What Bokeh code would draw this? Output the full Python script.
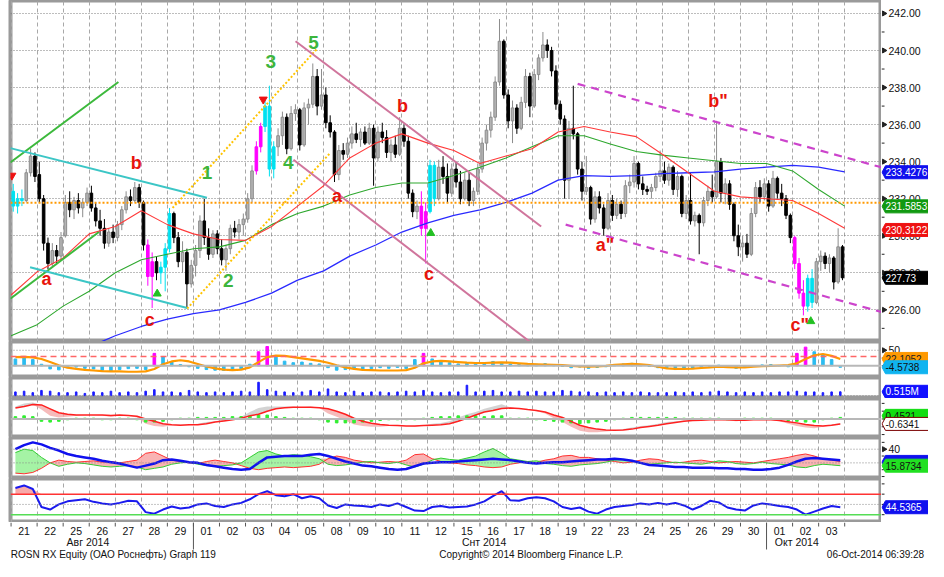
import numpy as np
from bokeh.plotting import figure
from bokeh.layouts import column, row
from bokeh.models import Range1d, FixedTicker, Span, Grid
from bokeh.embed import file_html
from bokeh.resources import INLINE
from bokeh.core.properties import value

# ---------------- data (6 intraday bars per trading day) ----------------
DAY_LABELS = ["21", "22", "25", "26", "27", "28", "29", "01", "02", "03", "04", "05", "08", "09", "10", "11",
              "12", "15", "16", "17", "18", "19", "22", "23", "24", "25", "26", "29", "30", "01", "02", "03"]
MONTH_NAMES = ["Авг 2014", "Снт 2014", "Окт 2014"]
MONTH_POS = [2.95, 18.16, 30.16]
MONTH_BREAKS = [7, 29]
FOOTER_TEXT = ["ROSN RX Equity (ОАО Роснефть) Graph 119", "Copyright© 2014 Bloomberg Finance L.P.",
               "06-Oct-2014 06:39:28"]
FOOTER_POS = [-0.01, 19.97, 35.05]

open_ = [
    232.4, 231.6, 232.0, 231.9, 233.4, 234.3,
    233.3, 232.0, 229.6, 228.5, 229.2, 228.9,
    230.0, 231.8, 231.4, 231.9, 231.5, 231.8,
    232.3, 231.5, 230.8, 230.4, 229.6, 230.2,
    229.9, 230.6, 231.4, 232.1, 231.9, 232.6,
    231.8, 229.5, 227.8, 228.6, 228.0, 228.3,
    229.3, 231.2, 229.9, 228.6, 229.1, 227.4,
    228.4, 229.2, 230.8, 229.9, 229.0, 230.1,
    229.3, 228.7, 229.3, 230.4, 230.2, 230.6,
    230.9, 232.0, 233.5, 234.8, 235.9, 237.0,
    233.6, 234.8, 235.4, 236.4, 234.7, 236.6,
    236.8, 234.9, 236.9, 237.1, 238.6, 237.0,
    237.6, 236.1, 235.6, 233.3, 234.6, 234.4,
    235.0, 235.5, 235.2, 235.6, 235.0, 235.8,
    234.2, 235.6, 235.3, 234.5, 234.9, 234.4,
    235.8, 235.1, 232.3, 231.3, 231.6, 230.4,
    231.3, 233.8, 232.0, 233.7, 233.2, 232.3,
    233.6, 232.9, 232.0, 233.0, 231.9, 232.4,
    233.6, 235.0, 235.7, 236.4, 238.3, 240.5,
    237.6, 236.2, 236.9, 235.8, 237.2, 238.6,
    237.0, 238.7, 239.6, 240.3, 240.0, 238.9,
    237.1, 236.3, 233.0, 235.8, 235.5, 233.6,
    232.4, 232.6, 230.9, 232.1, 231.5, 230.4,
    231.9, 231.1, 231.7, 231.2, 232.7, 232.9,
    233.9, 232.8, 232.5, 232.4, 232.6, 233.2,
    233.5, 233.0, 233.7, 232.5, 233.2, 231.2,
    231.9, 230.8, 231.1, 230.7, 231.9, 232.4,
    232.1, 234.0, 232.3, 232.8, 231.7, 230.0,
    229.4, 229.6, 229.0, 231.2, 232.6, 232.1,
    232.8, 231.6, 233.1, 232.3, 232.0, 231.1,
    229.9, 228.5, 226.9, 226.2, 227.7, 226.4,
    228.6, 228.9, 228.5, 228.8, 227.5, 229.4]
high = [
    232.8, 232.3, 232.5, 233.6, 234.7, 234.5,
    234.0, 232.2, 229.9, 229.6, 229.5, 230.2,
    232.2, 232.4, 232.1, 232.3, 232.0, 232.6,
    232.7, 231.8, 231.4, 230.9, 230.4, 230.6,
    230.8, 231.6, 232.4, 232.5, 232.9, 232.8,
    231.9, 229.8, 229.1, 228.9, 228.6, 229.6,
    231.5, 231.3, 230.2, 229.7, 229.3, 228.7,
    229.5, 231.1, 232.0, 230.4, 230.3, 230.3,
    229.8, 229.5, 230.6, 230.8, 230.9, 231.2,
    232.3, 233.8, 235.1, 236.1, 237.4, 238.1,
    235.1, 235.8, 236.7, 236.6, 237.0, 237.1,
    236.9, 237.2, 237.4, 239.3, 239.0, 239.0,
    238.0, 236.5, 235.7, 234.9, 235.0, 235.3,
    235.9, 236.1, 235.8, 235.9, 236.1, 236.0,
    235.9, 236.1, 235.7, 235.2, 235.4, 236.4,
    236.0, 235.4, 232.5, 231.9, 232.4, 231.8,
    234.1, 234.0, 234.1, 234.3, 233.9, 233.9,
    234.0, 233.5, 233.4, 233.4, 232.6, 233.9,
    235.3, 236.0, 236.7, 238.6, 241.7, 240.6,
    237.9, 237.3, 237.1, 237.5, 239.0, 238.8,
    239.0, 239.8, 241.0, 240.6, 240.2, 239.2,
    237.3, 236.5, 236.2, 238.1, 235.6, 234.0,
    234.3, 232.7, 232.4, 232.4, 231.7, 232.3,
    232.2, 232.0, 231.9, 233.0, 233.3, 234.3,
    234.0, 233.2, 232.7, 232.8, 233.4, 234.6,
    234.0, 233.9, 233.8, 233.5, 233.3, 232.2,
    233.4, 231.3, 231.2, 232.1, 232.7, 233.3,
    236.2, 234.2, 233.1, 233.0, 231.8, 230.6,
    230.0, 230.1, 231.5, 232.9, 233.0, 233.1,
    233.0, 233.5, 233.2, 232.8, 232.2, 231.2,
    230.0, 228.8, 227.6, 227.9, 228.2, 228.8,
    229.2, 229.1, 229.0, 228.9, 230.4, 229.5]
low = [
    231.3, 231.2, 231.6, 231.8, 233.2, 232.9,
    231.8, 229.2, 228.2, 228.3, 228.5, 228.7,
    229.9, 231.0, 230.9, 231.2, 231.0, 231.6,
    231.3, 230.5, 230.0, 229.3, 229.4, 229.6,
    229.7, 230.3, 231.2, 231.6, 231.8, 231.5,
    229.2, 227.3, 226.1, 227.6, 227.4, 227.0,
    229.1, 229.6, 228.3, 228.0, 226.1, 227.2,
    227.8, 228.8, 229.5, 228.7, 228.8, 229.0,
    228.4, 228.1, 229.0, 229.9, 229.8, 230.0,
    230.7, 231.8, 233.3, 234.5, 235.6, 233.2,
    233.1, 234.3, 234.9, 234.4, 234.6, 236.2,
    234.6, 234.8, 236.0, 236.9, 236.5, 236.8,
    235.8, 235.3, 232.9, 233.0, 234.1, 234.2,
    234.7, 235.0, 234.8, 234.9, 234.9, 232.7,
    234.0, 235.0, 234.2, 234.0, 234.2, 234.3,
    234.8, 232.0, 231.0, 230.9, 230.0, 228.5,
    231.2, 231.6, 231.9, 232.8, 231.8, 232.1,
    232.6, 231.7, 231.9, 231.6, 231.6, 232.2,
    233.4, 234.6, 235.3, 236.2, 238.1, 237.4,
    235.8, 235.0, 235.5, 235.7, 236.9, 236.4,
    236.9, 238.4, 239.4, 239.6, 238.6, 236.8,
    236.0, 232.0, 232.0, 235.2, 233.3, 231.9,
    232.2, 230.6, 230.7, 231.2, 230.0, 230.3,
    230.8, 230.9, 230.9, 231.0, 232.3, 232.6,
    232.5, 232.2, 232.2, 232.0, 232.4, 232.9,
    232.8, 232.7, 232.2, 232.1, 231.0, 230.9,
    230.6, 230.5, 229.0, 230.5, 231.6, 231.8,
    232.0, 231.8, 231.7, 231.4, 229.7, 228.9,
    228.6, 228.8, 228.9, 231.0, 231.8, 231.9,
    231.3, 231.5, 232.0, 231.6, 230.9, 229.6,
    228.2, 226.6, 225.7, 225.9, 226.1, 226.3,
    228.1, 228.2, 228.0, 227.1, 227.4, 227.6]
close = [
    231.6, 232.0, 231.9, 233.4, 234.3, 233.2,
    232.0, 229.6, 228.5, 229.2, 228.9, 229.9,
    231.8, 231.4, 231.9, 231.5, 231.8, 232.3,
    231.5, 230.8, 230.4, 229.6, 230.2, 229.9,
    230.6, 231.4, 232.1, 231.9, 232.6, 231.8,
    229.5, 227.8, 228.6, 228.0, 228.3, 229.3,
    231.2, 229.9, 228.6, 229.1, 227.4, 228.4,
    229.2, 230.8, 229.9, 229.0, 230.1, 229.3,
    228.7, 229.3, 230.4, 230.2, 230.6, 230.9,
    232.0, 233.5, 234.8, 235.9, 237.0, 233.6,
    234.8, 235.4, 236.4, 234.7, 236.6, 236.8,
    234.9, 236.9, 237.1, 238.6, 237.0, 237.6,
    236.1, 235.6, 233.3, 234.6, 234.4, 235.0,
    235.5, 235.2, 235.6, 235.0, 235.8, 234.2,
    235.6, 235.3, 234.5, 234.9, 234.4, 235.8,
    235.1, 232.3, 231.3, 231.6, 230.4, 231.3,
    233.8, 232.0, 233.7, 233.2, 232.3, 233.6,
    232.9, 232.0, 233.0, 231.9, 232.4, 233.6,
    235.0, 235.7, 236.4, 238.3, 240.5, 237.6,
    236.2, 236.9, 235.8, 237.2, 238.6, 237.0,
    238.7, 239.6, 240.3, 240.0, 238.9, 237.1,
    236.3, 233.0, 235.8, 235.5, 233.6, 232.4,
    232.6, 230.9, 232.1, 231.5, 230.4, 231.9,
    231.1, 231.7, 231.2, 232.7, 232.9, 233.9,
    232.8, 232.5, 232.4, 232.6, 233.2, 233.5,
    233.0, 233.7, 232.5, 233.2, 231.2, 231.9,
    230.8, 231.1, 230.7, 231.9, 232.4, 232.1,
    234.0, 232.3, 232.8, 231.7, 230.0, 229.4,
    229.6, 229.0, 231.2, 232.6, 232.1, 232.8,
    231.6, 233.1, 232.3, 232.0, 231.1, 229.9,
    228.5, 226.9, 226.2, 227.7, 226.4, 228.6,
    228.9, 228.5, 228.8, 227.5, 229.4, 227.73]
MAGENTA_BARS = [31, 32, 56, 57, 94, 95, 180, 181, 182]
CYAN_BARS = [0, 1, 2, 34, 35, 36, 58, 59, 60, 96, 97, 183, 184]

# moving averages, read at each day boundary (day 0 .. day 32)
ma_red = [226.8, 228.05, 228.8, 230.1, 230.5, 231.35, 230.6, 230.1, 229.8, 229.75, 230.5, 231.6, 232.7,
          234.2, 235.0, 235.5, 235.0, 234.6, 233.9, 234.3, 234.7, 235.6, 235.9, 235.6, 235.35, 234.4,
          233.4, 232.4, 232.1, 232.0, 231.9, 231.2, 230.4]
ma_green = [224.6, 225.2, 226.2, 227.0, 228.0, 228.7, 229.0, 229.3, 229.4, 229.75, 230.6, 231.2, 231.6,
            232.2, 232.6, 232.85, 232.85, 233.25, 233.7, 234.2, 234.8, 235.4, 235.4, 234.95, 234.55,
            234.35, 234.2, 234.05, 233.9, 233.9, 233.5, 232.5, 231.6]
ma_blue = [np.nan, np.nan, np.nan, 224.0, 224.6, 225.1, 225.5, 225.8, 226.0, 226.4, 226.9, 227.6, 228.1,
           228.9, 229.5, 230.2, 230.7, 231.1, 231.4, 231.8, 232.3, 233.0, 233.25, 233.2, 233.25, 233.35,
           233.4, 233.45, 233.6, 233.7, 233.8, 233.7, 233.45]
PRICE_TICKS = [226, 228, 230, 232, 234, 236, 238, 240, 242]
PRICE_MINOR = [225, 227, 229, 231, 233, 235, 237, 239, 241]
LAST_TAGS = [(233.4276, "233.4276", "#1010ee", "white"), (231.5853, "231.5853", "#119911", "white"),
             (230.3122, "230.3122", "#ee1111", "white"), (227.73, "227.73", "#000000", "white")]
PIVOT_LEVEL = 231.78

# hand-drawn lines: (day0, price0, day1, price1)
GREEN_TREND = [(-0.03, 233.95, 4.12, 238.3), (-0.03, 226.6, 3.37, 230.2)]
CYAN_TREND = [(-0.03, 234.73, 7.52, 232.05), (0.73, 228.3, 6.76, 226.1)]
YELLOW_TREND = [(6.2, 231.5, 11.75, 240.1), (6.76, 226.07, 12.24, 234.45)]
PINK_TREND = [(10.92, 240.5, 20.35, 230.5), (10.84, 234.1, 20.08, 224.1)]
VIOLET_TREND = [(21.75, 238.2, 33.42, 233.69), (21.29, 230.6, 33.42, 225.88)]

RED_WAVE_TEXT = ["a", "b", "c", "a", "b", "c", 'a"', 'b"', 'c"']
RED_WAVE_X = [1.36, 4.81, 5.32, 12.51, 15.03, 16.04, 22.8, 27.14, 30.28]
RED_WAVE_Y = [227.66, 233.95, 225.47, 232.12, 237.02, 227.92, 229.49, 237.28, 225.2]
GREEN_WAVE_TEXT = ["1", "2", "3", "4", "5"]
GREEN_WAVE_X = [7.52, 8.34, 9.97, 10.64, 11.61]
GREEN_WAVE_Y = [233.43, 227.57, 239.38, 233.95, 240.43]
UP_MARK_X = [5.61, 16.11, 30.7]
UP_MARK_Y = [226.87, 230.14, 225.38]
DOWN_MARK_X = [0.03, 9.68]
DOWN_MARK_Y = [233.25, 237.36]

# indicators (3 readings per trading day)
osc_hist = [22, 25, 20, 5, -10, -13, -6, -4, -8, -10, -14, -16, -12, -9, -8, -12, 40, 30,
            12, 4, -3, -8, -12, -14, -15, -12, -10, 5, 45, 62, 30, 15, 10, 12, 8, 6,
            -6, -14, -12, -10, -13, -9, -6, -8, -5, -9, 20, 40, 22, 14, 10, 6, 8, 5,
            8, 14, 10, 6, 4, 2, 5, 7, 3, -2, -6, -4, -8, -5, -3, 4, 6, 8,
            3, -2, -6, -8, -12, -10, -9, -6, -4, 2, -4, -8, -5, -2, 3, 4, 1, -3,
            40, 60, 45, 35, 20, -4.57]
OSC_MAGENTA = [16, 28, 29, 47, 90, 91]
osc_line = [28, 29, 27, 22, 12, 2, -6, -10, -13, -15, -17, -18, -18, -19, -19, -18, -10, 5,
            14, 18, 14, 6, -2, -8, -12, -14, -12, -5, 12, 28, 33, 32, 28, 24, 20, 16,
            10, 2, -5, -10, -13, -14, -15, -15, -15, -14, -6, 8, 14, 16, 14, 12, 10, 9,
            9, 10, 11, 10, 8, 6, 5, 4, 3, 2, 0, -2, -3, -2, 0, 3, 5, 6,
            5, 2, -3, -8, -10, -10, -9, -7, -5, -3, -4, -5, -5, -3, -1, 0, 1, 2,
            8, 22, 34, 38, 32, 22.1]
OSC_LEVELS = [50, 30, 0]
volume = [0.5, 0.6, 0.4, 0.7, 0.6, 0.4, 0.4, 0.5, 0.3, 0.5, 0.4, 0.6, 0.4, 0.5, 0.4, 0.6, 0.8, 0.5,
          0.5, 0.4, 0.7, 0.5, 0.4, 0.5, 0.4, 0.5, 0.6, 0.5, 1.8, 0.8, 0.6, 0.5, 0.4, 0.5, 0.7, 0.5,
          0.9, 0.5, 0.4, 0.6, 0.4, 0.5, 0.5, 0.4, 0.5, 0.6, 0.5, 0.7, 0.5, 0.4, 0.5, 0.5, 1.4, 0.5,
          0.6, 0.7, 0.5, 0.5, 0.6, 0.5, 0.6, 0.5, 0.5, 0.7, 0.6, 0.5, 0.5, 0.4, 0.5, 0.4, 0.5, 0.4,
          0.5, 0.4, 0.4, 0.4, 0.5, 0.4, 0.5, 0.4, 0.5, 0.6, 0.5, 0.4, 0.5, 0.4, 0.5, 0.4, 0.5, 0.5,
          0.6, 0.5, 0.5, 0.4, 0.5, 0.515]
macd_signal = [1.4, 1.6, 1.85, 1.8, 1.3, 0.8, 0.6, 0.5, 0.5, 0.5, 0.5, 0.45, 0.5, 0.45, 0.35,
               0.0, -0.3, -0.6, -0.75, -0.8, -0.75, -0.75, -0.6, -0.4, -0.25, -0.1, 0.1,
               0.4, 0.6, 1.0, 1.3, 1.45, 1.5, 1.5, 1.5, 1.45, 1.3, 1.0, 0.6, 0.1, -0.3, -0.55,
               -0.7, -0.8, -0.85, -0.9, -0.9, -0.85, -0.8, -0.75, -0.6, -0.3, 0.1, 0.5,
               0.9, 1.1, 1.35, 1.4, 1.35, 1.2, 1.1, 0.9, 0.5, 0.2, -0.3, -0.8, -1.1, -1.3, -1.4,
               -1.45, -1.4, -1.3, -1.1, -0.95, -0.8, -0.6, -0.45, -0.3, -0.2, -0.15, -0.1,
               -0.1, -0.1, -0.15, -0.15, -0.1, -0.1, -0.1, -0.2, -0.35, -0.5, -0.7, -0.85,
               -0.9, -0.8, -0.63]
macd_line = [1.6, 2.0, 2.1, 1.2, 0.4, 0.2, 0.3, 0.4, 0.5, 0.5, 0.4, 0.3, 0.4, 0.4, 0.2,
             -0.6, -0.9, -1.0, -0.8, -0.7, -0.8, -0.6, -0.4, -0.3, -0.1, 0.1, 0.3,
             0.9, 1.4, 1.6, 1.6, 1.6, 1.6, 1.5, 1.6, 1.4, 0.7, 0.3, -0.2, -0.7, -0.9, -1.0,
             -1.0, -0.9, -0.9, -0.9, -1.0, -0.8, -0.6, -0.5, -0.3, 0.2, 0.6, 0.9,
             1.3, 1.6, 1.9, 1.5, 1.3, 1.2, 1.0, 0.7, 0.1, -0.4, -1.0, -1.5, -1.7, -1.7, -1.6,
             -1.5, -1.3, -1.1, -0.9, -0.8, -0.6, -0.4, -0.3, -0.2, -0.1, -0.1, 0.0,
             0.0, -0.2, -0.3, -0.2, 0.0, 0.0, 0.0, -0.3, -0.6, -0.9, -1.1, -1.2,
             -1.0, -0.7, -0.5]
macd_hist = [0.3, 0.4, 0.3, -0.3, -0.4, -0.3, -0.1, 0.1, 0.1, 0.1, -0.1, -0.1, 0.1, 0.1, -0.1,
             -0.4, -0.4, -0.3, -0.1, 0.1, 0.1, 0.2, 0.2, 0.2, 0.2, 0.3, 0.3, 0.4, 0.5, 0.5,
             0.3, 0.2, 0.1, 0.1, 0.1, -0.1, -0.4, -0.5, -0.5, -0.5, -0.4, -0.3, -0.2, -0.1, -0.1,
             -0.1, -0.1, 0.1, 0.2, 0.3, 0.3, 0.4, 0.4, 0.4, 0.3, 0.4, 0.4, 0.1, 0.1, 0.1,
             -0.1, -0.2, -0.3, -0.4, -0.5, -0.6, -0.5, -0.4, -0.3, -0.1, 0.1, 0.2, 0.2, 0.2, 0.2,
             0.2, 0.2, 0.1, 0.1, 0.1, 0.1, 0.1, -0.1, -0.1, 0.1, 0.1, 0.1, 0.1, -0.1, -0.2,
             -0.3, -0.4, -0.4, -0.1, 0.1, 0.2]
adx = [40, 46, 50, 47, 42, 38, 33, 30, 28, 26, 23, 21, 19, 16, 13, 16, 19, 24, 25, 23, 21,
       20, 17, 15, 13, 11, 10, 11, 20, 28, 29, 30, 30, 30, 32, 33, 30, 26, 22, 19, 16, 15,
       13, 11, 10, 11, 15, 19, 20, 21, 21, 22, 23, 24, 25, 26, 25, 24, 22, 20, 19, 20, 21,
       21, 22, 23, 24, 25, 25, 26, 25, 23, 20, 17, 16, 15, 14, 14, 13, 13, 13, 12, 12, 11,
       11, 10, 10, 11, 13, 17, 22, 26, 27, 26, 25, 24]
di_minus = [5, 4, 6, 12, 20, 24, 22, 21, 22, 23, 21, 22, 20, 22, 24, 34, 36, 30, 24, 22, 20,
            19, 22, 24, 22, 20, 16, 12, 10, 12, 13, 14, 13, 14, 15, 18, 26, 30, 28, 24, 22, 20,
            21, 22, 21, 24, 32, 33, 26, 22, 20, 19, 17, 16, 14, 13, 14, 18, 20, 22, 20, 24, 26,
            30, 31, 28, 28, 26, 24, 22, 20, 21, 24, 26, 25, 22, 20, 21, 23, 24, 22, 20, 21, 22,
            21, 20, 22, 24, 26, 28, 31, 33, 30, 26, 24, 22]
di_plus = [35, 40, 38, 28, 20, 15, 18, 20, 19, 17, 15, 14, 15, 16, 14, 10, 12, 14, 18, 20, 21,
           18, 16, 15, 16, 17, 20, 28, 36, 38, 33, 30, 32, 31, 29, 26, 18, 16, 17, 19, 21, 22,
           20, 19, 21, 17, 14, 18, 24, 27, 25, 24, 27, 30, 36, 41, 34, 26, 24, 22, 23, 19, 18,
           16, 15, 17, 18, 19, 21, 24, 25, 23, 19, 18, 19, 20, 21, 20, 19, 18, 20, 23, 22, 19,
           18, 19, 21, 19, 18, 17, 14, 13, 16, 18, 17, 15.87]
DMI_LEVELS = [40, 20]
rsi = [82, 87, 80, 45, 40, 50, 56, 58, 60, 55, 52, 50, 53, 57, 56, 35, 32, 40, 46, 42, 44,
       50, 52, 47, 45, 50, 53, 60, 70, 76, 68, 66, 70, 62, 66, 62, 48, 43, 50, 48, 47, 45,
       50, 47, 52, 45, 38, 37, 45, 47, 44, 45, 46, 50, 56, 66, 76, 58, 57, 62, 64, 62, 56,
       45, 41, 44, 36, 32, 40, 45, 47, 49, 52, 50, 53, 50, 53, 48, 40, 47, 57, 54, 44, 40,
       38, 48, 52, 50, 47, 45, 40, 30, 36, 42, 47, 44.54]
RSI_LEVELS = [70, 50, 30]

# ---------------- layout helpers ----------------
FONT = "Liberation Sans"
MAIN_W = 881
SIDE_W = 47
XR = Range1d(-0.022, 33.415)
BOUNDS = list(range(0, 33))


def panel(h, lo, hi):
    p = figure(width=MAIN_W, height=h, x_range=XR, y_range=Range1d(lo, hi), output_backend="svg",
               toolbar_location=None, x_axis_location=None, y_axis_location=None,
               min_border_left=10, min_border_right=0, min_border_top=0, min_border_bottom=0)
    p.grid.visible = False
    p.outline_line_color = "#9a9a9a"
    p.outline_line_width = 4
    p.background_fill_color = "white"
    p.add_layout(Grid(dimension=0, ticker=FixedTicker(ticks=BOUNDS), grid_line_color="#a8a8a8",
                      grid_line_dash="4 3", grid_line_width=1))
    s = figure(width=SIDE_W, height=h, x_range=Range1d(0, SIDE_W), y_range=p.y_range, output_backend="svg",
               toolbar_location=None, x_axis_location=None, y_axis_location=None,
               min_border_left=0, min_border_right=0, min_border_top=0, min_border_bottom=0)
    s.grid.visible = False
    s.outline_line_color = None
    s.background_fill_color = "white"
    return p, s


def side_ticks(s, major, minor, labels):
    if major:
        s.scatter([2.5] * len(major), major, marker="triangle", angle=-np.pi / 2, size=5, color="#222222")
        s.text([7] * len(major), major, text=labels, text_font=value(FONT), text_font_size="10.5px",
               text_color="#111111", text_baseline="middle", text_align="left")
    if minor:
        s.segment(x0=0, y0=minor, x1=3, y1=minor, line_color="#222222", line_width=1)


def side_tag(s, v, text, bg, fg, h, border=None):
    span = s.y_range.end - s.y_range.start
    hh = 6.5 * span / h
    s.patch([0.5, 4, SIDE_W + 5, SIDE_W + 5, 4], [v, v + hh, v + hh, v - hh, v - hh],
            fill_color=bg, line_color=border or bg, line_width=1)
    s.text([4], [v], text=[text], text_font=value(FONT), text_font_size="10px", text_color=fg,
           text_baseline="middle", text_align="left")


def hline(p, level, color, width=1, dash="solid"):
    p.add_layout(Span(location=level, dimension="width", line_color=color,
                      line_width=width, line_dash=dash))


cx = (np.arange(len(close)) + 0.5) / 6.0
ix = (np.arange(len(rsi)) + 0.5) / 3.0
mx = np.arange(len(ma_red))

# ---------------- main price panel ----------------
H1 = 341
p1, s1 = panel(H1, 224.29, 242.70)
p1.add_layout(Grid(dimension=1, ticker=FixedTicker(ticks=PRICE_TICKS),
                   grid_line_color="#7a7a7a", grid_line_dash="1 2"))
hline(p1, PIVOT_LEVEL, "#ff9900", 2, "2 2")

o = np.array(open_); c = np.array(close); hi = np.array(high); lo_ = np.array(low)
col = np.where(c >= o, "#8c8c8c", "#000000").astype(object)
fill = np.where(c >= o, "#b4b4b4", "#000000").astype(object)
for i in MAGENTA_BARS:
    col[i] = "#ff00ff"; fill[i] = "#ff00ff"
for i in CYAN_BARS:
    col[i] = "#00e1f0"; fill[i] = "#00e1f0"
p1.segment(x0=cx, y0=lo_, x1=cx, y1=hi, line_color=list(col), line_width=1)
p1.vbar(x=cx, top=np.maximum(o, c), bottom=np.minimum(o, c), width=0.1,
        fill_color=list(fill), line_color=list(col), line_width=1)

p1.line(mx, ma_blue, line_color="#2a2aff", line_width=1.3)
p1.line(mx, ma_green, line_color="#2ea82e", line_width=1.1)
p1.line(mx, ma_red, line_color="#ff3a3a", line_width=1.1)

for lines, color, width, dash in [(GREEN_TREND, "#3cb93c", 2, "solid"), (CYAN_TREND, "#3cc6c6", 2, "solid"),
                                  (YELLOW_TREND, "#ffc400", 2, "2 2"), (PINK_TREND, "#d0759c", 2, "solid"),
                                  (VIOLET_TREND, "#cc44cc", 2.2, "8 6")]:
    for (a0, b0, a1, b1) in lines:
        p1.line([a0, a1], [b0, b1], line_color=color, line_width=width, line_dash=dash)

p1.scatter(UP_MARK_X, UP_MARK_Y, marker="triangle", size=8, color="#22c022")
p1.scatter(DOWN_MARK_X, DOWN_MARK_Y, marker="inverted_triangle", size=8, color="#ee1111")
p1.text(RED_WAVE_X, RED_WAVE_Y, text=RED_WAVE_TEXT, text_color="#e8140c", text_font=value("Liberation Sans"),
        text_font_style="bold", text_font_size="18px", text_align="center", text_baseline="middle")
p1.text(GREEN_WAVE_X, GREEN_WAVE_Y, text=GREEN_WAVE_TEXT, text_color="#3db53d",
        text_font=value("Liberation Sans"), text_font_style="bold", text_font_size="19px",
        text_align="center", text_baseline="middle")
side_ticks(s1, PRICE_TICKS, PRICE_MINOR, ["%.2f" % t for t in PRICE_TICKS])
for yv, txt, bg, fg in LAST_TAGS:
    side_tag(s1, yv, txt, bg, fg, H1)

# ---------------- oscillator panel ----------------
H2 = 36
p2, s2 = panel(H2, -37.5, 78.1)
hline(p2, OSC_LEVELS[0], "#888888", 1, "1 2")
hline(p2, OSC_LEVELS[2], "#b8b8b8", 2)
hcol = ["#ff00ff" if i in OSC_MAGENTA else "#2bbcf0" for i in range(len(osc_hist))]
p2.vbar(x=ix, top=osc_hist, bottom=0, width=0.1, color=hcol)
hline(p2, OSC_LEVELS[1], "#ff6666", 1.5, "6 4")
p2.line(ix, osc_line, line_color="#ff9900", line_width=2.2)
side_ticks(s2, [50], [25, 0], ["50"])
side_tag(s2, 22.1, "22.1052", "#ff9900", "#222222", H2)
side_tag(s2, -4.5738, "-4.5738", "#10b4f0", "#111111", H2)

# ---------------- volume panel ----------------
H3 = 21
p3, s3 = panel(H3, -0.385, 2.44)
hline(p3, 0, "#888888", 1, "1 2")
p3.vbar(x=ix, top=volume, bottom=0, width=0.06, color="#1a1aff")
side_tag(s3, 0.515, "0.515M", "#1010ff", "white", H3)

# ---------------- MACD panel ----------------
H4 = 39
p4, s4 = panel(H4, -2.375, 2.625)
sig = np.array(macd_signal); mac = np.array(macd_line)
p4.varea(x=ix, y1=sig, y2=np.minimum(mac, sig), fill_color="#f3a4a4", fill_alpha=0.75)
p4.varea(x=ix, y1=sig, y2=np.maximum(mac, sig), fill_color="#c8c8c8", fill_alpha=0.8)
hline(p4, 0, "#b8b8b8", 2)
p4.vbar(x=ix, top=macd_hist, bottom=0, width=0.1, color="#33ee33")
p4.line(ix, sig, line_color="#ff2020", line_width=1.5)
side_ticks(s4, [], [2, 1, 0, -1, -2], [])
side_tag(s4, 0.4, "0.4521", "#11dd11", "#111111", H4)
side_tag(s4, -0.6341, "-0.6341", "#ffffff", "#111111", H4, border="#7a0000")

# ---------------- DMI panel ----------------
H5 = 41
p5, s5 = panel(H5, -2.86, 57.1)
for lv in DMI_LEVELS:
    hline(p5, lv, "#888888", 1, "1 2")
dp = np.array(di_plus); dm = np.array(di_minus)
p5.varea(x=ix, y1=dm, y2=np.maximum(dp, dm), fill_color="#8ef08e", fill_alpha=0.8)
p5.varea(x=ix, y1=dp, y2=np.maximum(dm, dp), fill_color="#f7a0a0", fill_alpha=0.8)
p5.line(ix, dm, line_color="#ff3030", line_width=1)
p5.line(ix, dp, line_color="#33cc33", line_width=1)
p5.line(ix, adx, line_color="#1010ee", line_width=2.5)
side_ticks(s5, [40], [50, 30, 20, 10, 0], ["40"])
side_tag(s5, 21.4, "", "#1010ee", "white", H5)
side_tag(s5, 15.8734, "15.8734", "#22e022", "#111111", H5)

# ---------------- RSI panel ----------------
H6 = 44
p6, s6 = panel(H6, 14.76, 100.5)
r = np.array(rsi)
p6.varea(x=ix, y1=RSI_LEVELS[0], y2=np.maximum(r, RSI_LEVELS[0]), fill_color="#f7a0a0", fill_alpha=0.9)
hline(p6, RSI_LEVELS[0], "#ff3333", 1.5)
hline(p6, RSI_LEVELS[1], "#888888", 1, "1 2")
hline(p6, RSI_LEVELS[2], "#55dd55", 1.5)
p6.line(ix, r, line_color="#1a1aee", line_width=2)
side_ticks(s6, [], [90, 70, 50, 30], [])
side_tag(s6, 44.5365, "44.5365", "#1010ee", "white", H6)

# ---------------- time axis + footer ----------------
H7 = 39
pf = figure(width=MAIN_W + SIDE_W, height=H7, x_range=Range1d(-0.4057, 35.217), y_range=Range1d(H7, 0),
            output_backend="svg", toolbar_location=None, x_axis_location=None, y_axis_location=None,
            min_border_left=0, min_border_right=0, min_border_top=0, min_border_bottom=0)
pf.grid.visible = False
pf.outline_line_color = None
pf.segment(x0=BOUNDS, y0=0, x1=BOUNDS, y1=4, line_color="#555555", line_width=1)
pf.segment(x0=MONTH_BREAKS, y0=0, x1=MONTH_BREAKS, y1=27, line_color="#555555", line_width=1)
pf.text([d + 0.5 for d in range(len(DAY_LABELS))], [8] * len(DAY_LABELS), text=DAY_LABELS,
        text_font=value(FONT), text_font_size="10.5px", text_color="#111111",
        text_align="center", text_baseline="middle")
pf.text(MONTH_POS, [19.5] * len(MONTH_POS), text=MONTH_NAMES, text_font=value(FONT),
        text_font_size="10.5px", text_color="#111111", text_align="center", text_baseline="middle")
for txt, xs, al in zip(FOOTER_TEXT, FOOTER_POS, ["left", "center", "right"]):
    pf.text([xs], [32], text=[txt], text_font=value(FONT), text_font_size="10px",
            text_color="#111111", text_align=al, text_baseline="middle")

layout = column(row(p1, s1, spacing=0), row(p2, s2, spacing=0), row(p3, s3, spacing=0),
                row(p4, s4, spacing=0), row(p5, s5, spacing=0), row(p6, s6, spacing=0), pf, spacing=0)
open("out.html", "w").write(file_html(layout, INLINE))
